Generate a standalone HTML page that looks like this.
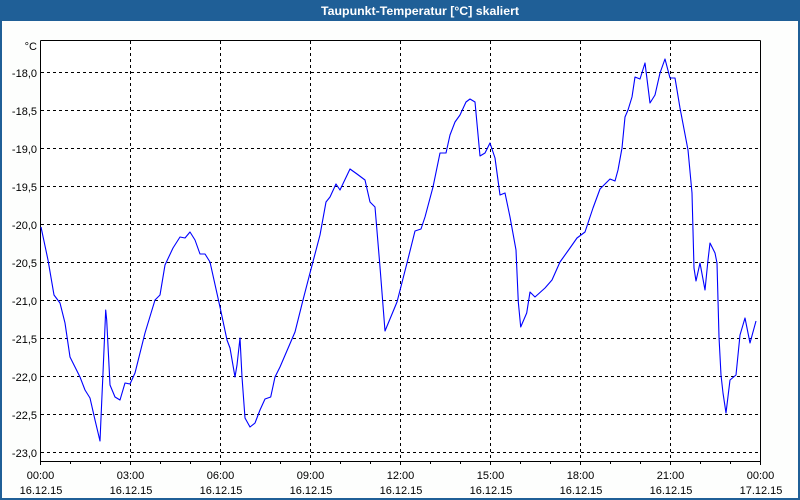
<!DOCTYPE html>
<html>
<head>
<meta charset="utf-8">
<style>
  html, body { margin:0; padding:0; background:#fdfefd; }
  body { width:800px; height:500px; overflow:hidden; }
  svg { display:block; }
  text { font-family: "Liberation Sans", "DejaVu Sans", sans-serif; }
</style>
</head>
<body>
<svg width="800" height="500" viewBox="0 0 800 500" xmlns="http://www.w3.org/2000/svg">
  <!-- window background -->
  <rect x="0" y="0" width="800" height="500" fill="#fdfefd"/>
  <!-- title bar -->
  <rect x="0" y="0" width="800" height="21" fill="#1f5f97"/>
  <!-- borders -->
  <rect x="0" y="0" width="2" height="500" fill="#1f5f97"/>
  <rect x="798" y="0" width="2" height="500" fill="#1f5f97"/>
  <rect x="0" y="498" width="800" height="2" fill="#1f5f97"/>
  <text x="420" y="15" fill="#ffffff" font-size="12" font-weight="bold" text-anchor="middle" textLength="198" lengthAdjust="spacingAndGlyphs">Taupunkt-Temperatur [°C] skaliert</text>

  <!-- plot background -->
  <rect x="40.5" y="40.5" width="720" height="421" fill="#ffffff"/>

  <!-- horizontal grid -->
  <g stroke="#000" stroke-width="1" stroke-dasharray="3,3" fill="none">
    <line x1="41" y1="72.5" x2="760" y2="72.5"/>
    <line x1="41" y1="110.5" x2="760" y2="110.5"/>
    <line x1="41" y1="148.5" x2="760" y2="148.5"/>
    <line x1="41" y1="186.5" x2="760" y2="186.5"/>
    <line x1="41" y1="224.5" x2="760" y2="224.5"/>
    <line x1="41" y1="262.5" x2="760" y2="262.5"/>
    <line x1="41" y1="300.5" x2="760" y2="300.5"/>
    <line x1="41" y1="338.5" x2="760" y2="338.5"/>
    <line x1="41" y1="376.5" x2="760" y2="376.5"/>
    <line x1="41" y1="414.5" x2="760" y2="414.5"/>
    <line x1="41" y1="452.5" x2="760" y2="452.5"/>
  </g>
  <!-- vertical grid -->
  <g stroke="#000" stroke-width="1" stroke-dasharray="3,3" fill="none">
    <line x1="130.5" y1="41" x2="130.5" y2="461"/>
    <line x1="220.5" y1="41" x2="220.5" y2="461"/>
    <line x1="310.5" y1="41" x2="310.5" y2="461"/>
    <line x1="400.5" y1="41" x2="400.5" y2="461"/>
    <line x1="490.5" y1="41" x2="490.5" y2="461"/>
    <line x1="580.5" y1="41" x2="580.5" y2="461"/>
    <line x1="670.5" y1="41" x2="670.5" y2="461"/>
  </g>

  <!-- frame -->
  <g stroke="#000" stroke-width="1" fill="none">
    <line x1="40.5" y1="40.5" x2="760.5" y2="40.5"/>
    <line x1="760.5" y1="40.5" x2="760.5" y2="461.5"/>
    <line x1="40.5" y1="40.5" x2="40.5" y2="461.5"/>
    <line x1="40" y1="461.5" x2="761" y2="461.5"/>
  </g>
  <!-- ticks -->
  <g stroke="#000" stroke-width="1">
    <line x1="40.5" y1="461" x2="40.5" y2="465"/>
    <line x1="70.5" y1="461" x2="70.5" y2="464"/>
    <line x1="100.5" y1="461" x2="100.5" y2="464"/>
    <line x1="130.5" y1="461" x2="130.5" y2="465"/>
    <line x1="160.5" y1="461" x2="160.5" y2="464"/>
    <line x1="190.5" y1="461" x2="190.5" y2="464"/>
    <line x1="220.5" y1="461" x2="220.5" y2="465"/>
    <line x1="250.5" y1="461" x2="250.5" y2="464"/>
    <line x1="280.5" y1="461" x2="280.5" y2="464"/>
    <line x1="310.5" y1="461" x2="310.5" y2="465"/>
    <line x1="340.5" y1="461" x2="340.5" y2="464"/>
    <line x1="370.5" y1="461" x2="370.5" y2="464"/>
    <line x1="400.5" y1="461" x2="400.5" y2="465"/>
    <line x1="430.5" y1="461" x2="430.5" y2="464"/>
    <line x1="460.5" y1="461" x2="460.5" y2="464"/>
    <line x1="490.5" y1="461" x2="490.5" y2="465"/>
    <line x1="520.5" y1="461" x2="520.5" y2="464"/>
    <line x1="550.5" y1="461" x2="550.5" y2="464"/>
    <line x1="580.5" y1="461" x2="580.5" y2="465"/>
    <line x1="610.5" y1="461" x2="610.5" y2="464"/>
    <line x1="640.5" y1="461" x2="640.5" y2="464"/>
    <line x1="670.5" y1="461" x2="670.5" y2="465"/>
    <line x1="700.5" y1="461" x2="700.5" y2="464"/>
    <line x1="730.5" y1="461" x2="730.5" y2="464"/>
    <line x1="760.5" y1="461" x2="760.5" y2="465"/>
  </g>

  <!-- y labels -->
  <g font-size="11" fill="#000" text-anchor="end">
    <text x="37" y="50">°C</text>
    <text x="37" y="77">-18,0</text>
    <text x="37" y="115">-18,5</text>
    <text x="37" y="153">-19,0</text>
    <text x="37" y="191">-19,5</text>
    <text x="37" y="229">-20,0</text>
    <text x="37" y="267">-20,5</text>
    <text x="37" y="305">-21,0</text>
    <text x="37" y="343">-21,5</text>
    <text x="37" y="381">-22,0</text>
    <text x="37" y="419">-22,5</text>
    <text x="37" y="457">-23,0</text>
  </g>

  <!-- x labels -->
  <g font-size="11" fill="#000" text-anchor="middle">
    <text x="40.5" y="479">00:00</text><text x="41" y="494">16.12.15</text>
    <text x="130.5" y="479">03:00</text><text x="131" y="494">16.12.15</text>
    <text x="220.5" y="479">06:00</text><text x="221" y="494">16.12.15</text>
    <text x="310.5" y="479">09:00</text><text x="311" y="494">16.12.15</text>
    <text x="400.5" y="479">12:00</text><text x="401" y="494">16.12.15</text>
    <text x="490.5" y="479">15:00</text><text x="491" y="494">16.12.15</text>
    <text x="580.5" y="479">18:00</text><text x="581" y="494">16.12.15</text>
    <text x="670.5" y="479">21:00</text><text x="671" y="494">16.12.15</text>
    <text x="760.5" y="479">00:00</text><text x="761" y="494">17.12.15</text>
  </g>

  <!-- data series -->
  <polyline fill="none" stroke="#0000ff" stroke-width="1.1" stroke-linejoin="round"
    points="41,227 48,260 54,295 60,303 65,323 70,357 75,367 80,377 85,390 90,398 95,420 100,441 101.7,402 103,373 105.7,310 106.7,320 110,385 115,397 120,400 125,383 130,384 135,373 145,333 155,300 160,295 165,265 173,248 180,237 185,238 190,232 195,240 200,254 205,254 210,262 220,307 227,340 230,348 235,377 237,365 240,338 242,377 245,418 250,427 255,423 260,410 265,399 270.7,397 275,377 280,367 295,332 303,300 310,273 320,235 326,202 330,197 336,184 340,190 350,169 357,174 365,180 370,202 375,207 380,267 385,331 397,302 407,263 415,231 421,229 425,217 433,187 440,153 446,153 450,135 455,122 460,115 466,102 470,99 475,102 480,156 485,153 490,143 495,158 500,195 505,193 510,217 516,250 518.3,302 520.7,327 526.7,313 530,292 535,297 545,288 552,280 560,262 570,248 577,238 585,232 593,208 600,189 610,179 615,181 618,170 622,148 625,117 628,110 632,97 635,77 640,79 645,63 650,103 655,95 660,73 665,59 670,78 675,78 680,108 688,150 692,193 694,268 696,281 700,263 705,290 708,260 710,243 715,253 717,263 719,337 721,375 723,393 726,413 730,380 736,375 740,335 745,318 750,343 756,321"/>
</svg>
</body>
</html>
